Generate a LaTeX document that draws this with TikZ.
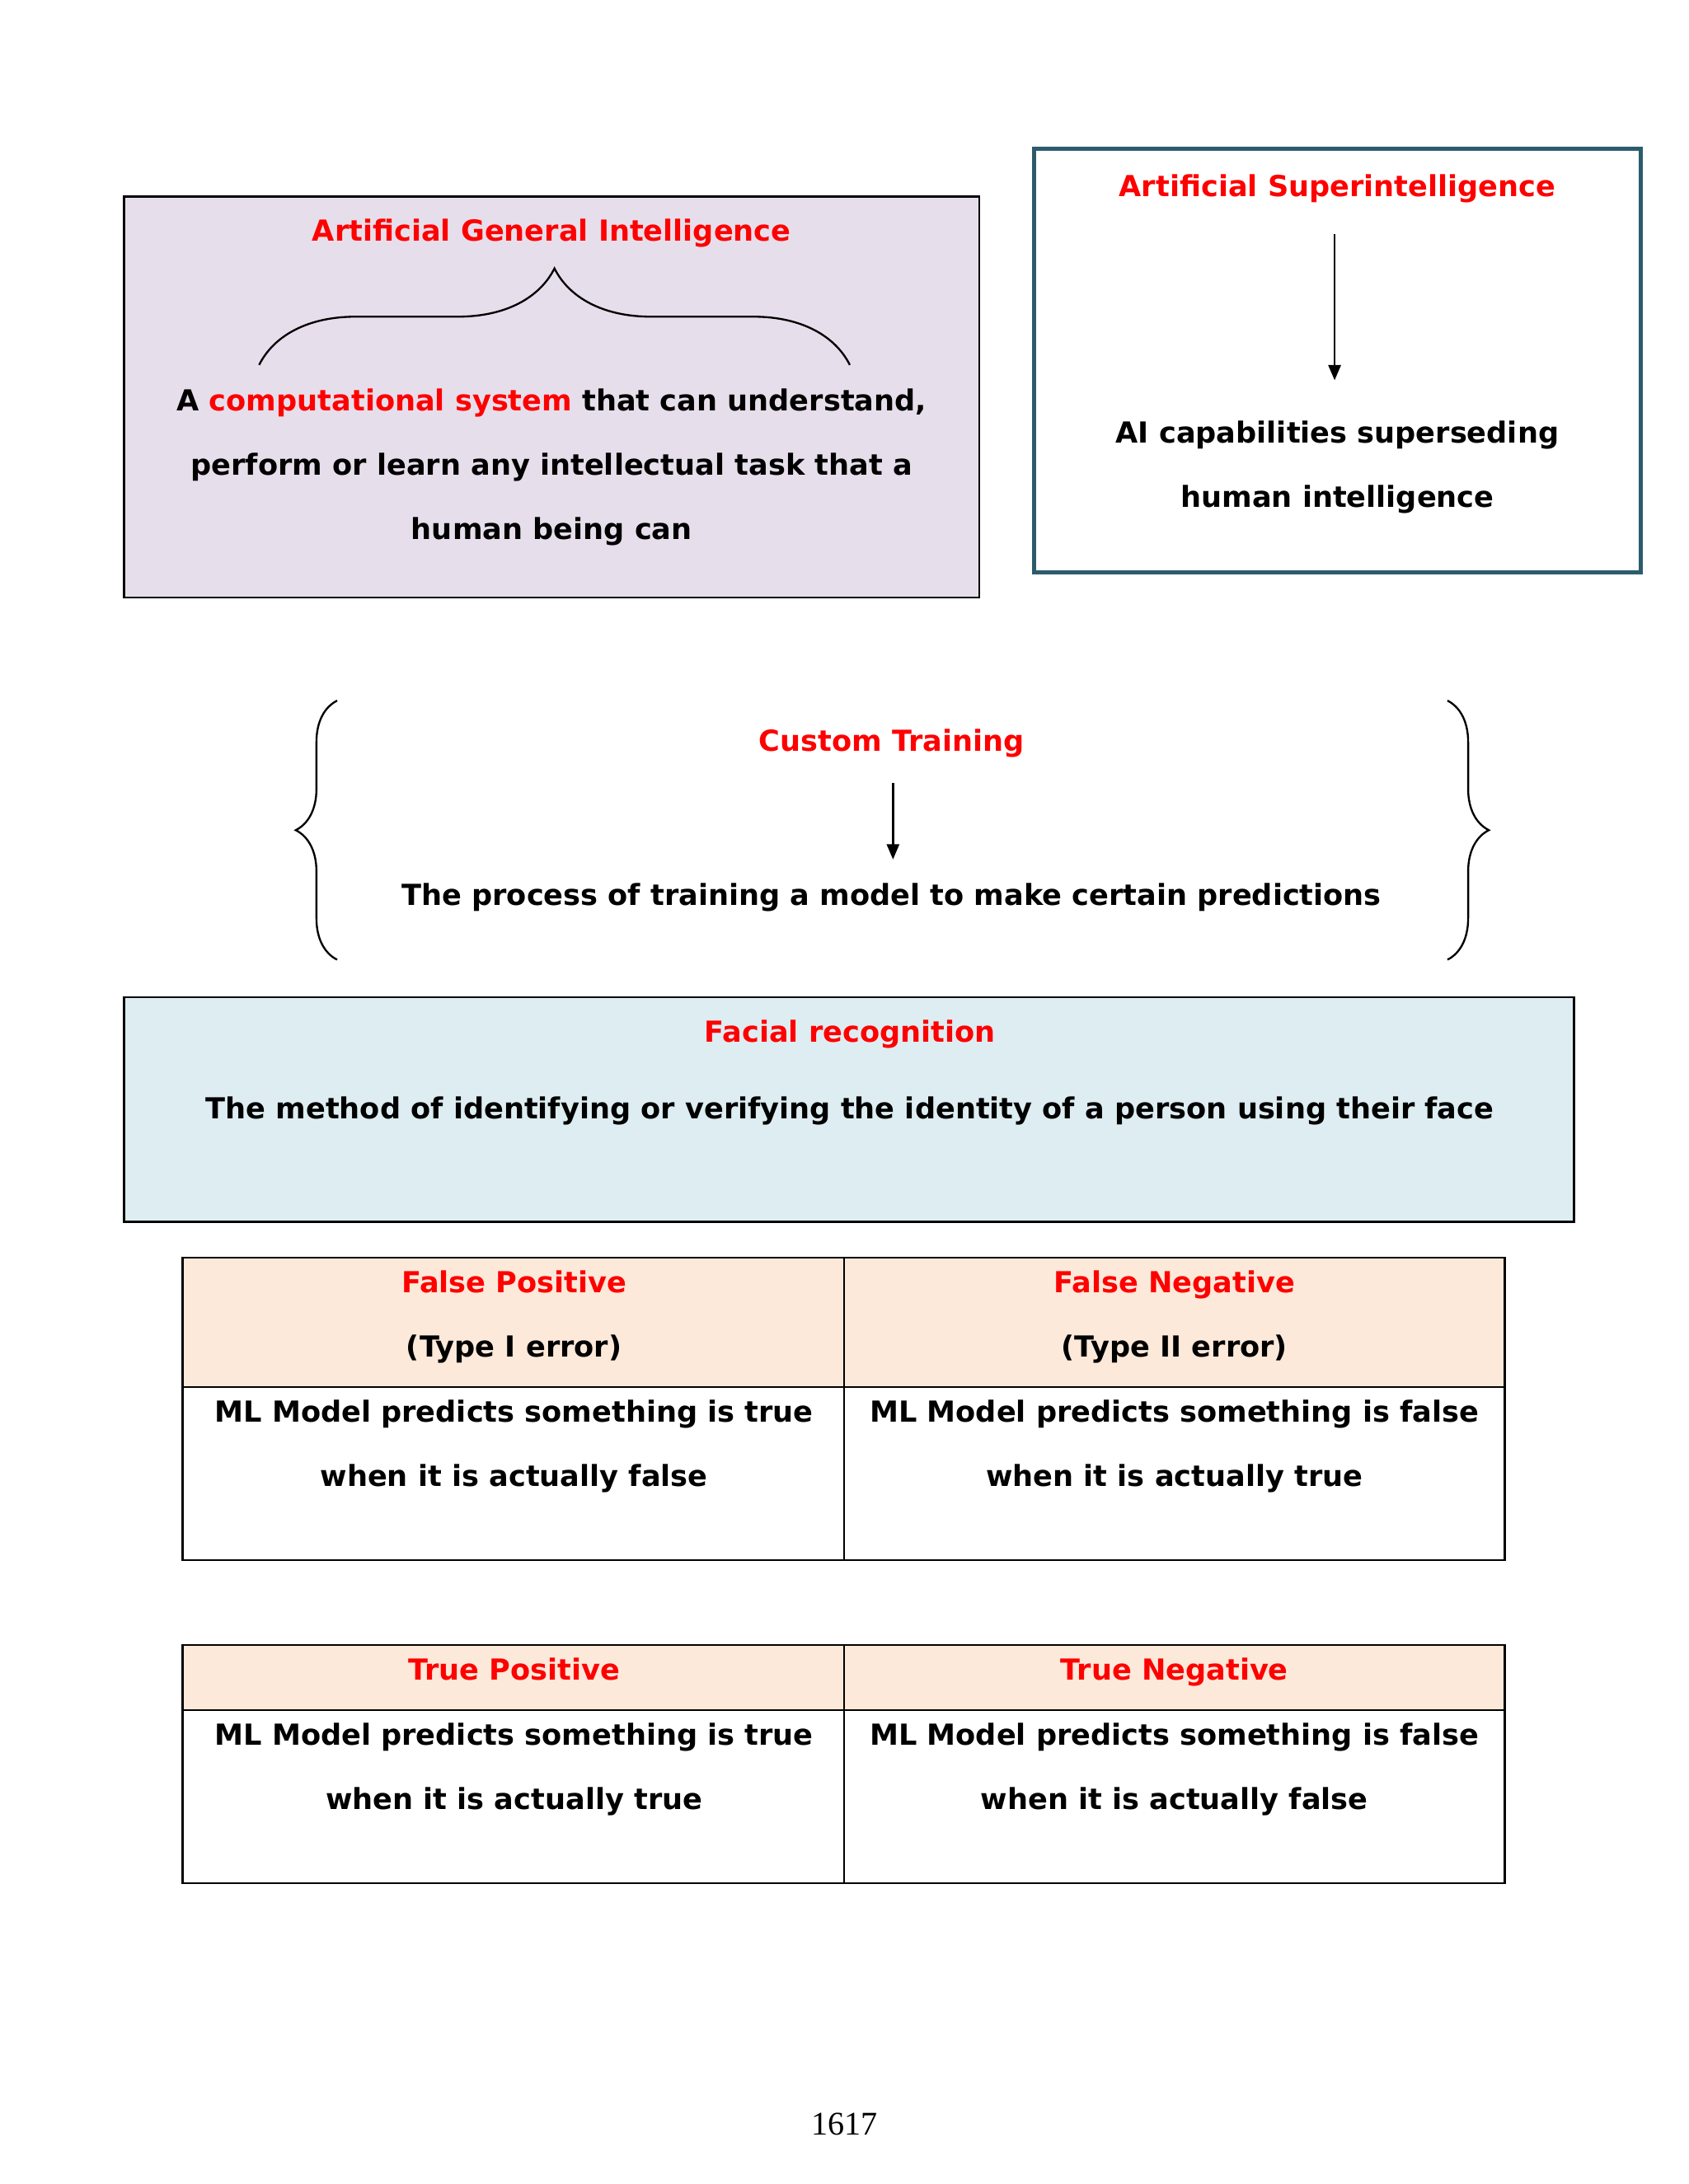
\documentclass[tikz,border=0pt]{standalone}
\usepackage{fontspec}
\setmainfont{DejaVu Sans}
\newfontfamily\pagefont{Liberation Serif}
\usetikzlibrary{arrows.meta,positioning,decorations.pathreplacing,calc}

\definecolor{agifill}{RGB}{231,222,235}
\definecolor{asiline}{RGB}{44,92,108}
\definecolor{facefill}{RGB}{221,237,242}
\definecolor{headfill}{RGB}{252,233,218}
\definecolor{titlered}{RGB}{255,0,0}

\begin{document}
\begin{tikzpicture}[
  x=0.505pt, y=-0.505pt,
  >={Triangle[length=5.5pt,width=4.5pt]},
  font=\fontsize{10.5}{13}\selectfont\bfseries,
  title/.style={text=titlered,text height=10pt,text depth=1.8pt,inner sep=0pt},
  line/.style={text height=10pt,text depth=1.8pt,inner sep=0pt},
  conbox/.style={draw,line width=0.8pt},
  curly/.style={decorate,decoration={brace,amplitude=#1},line width=0.7pt},
  arr/.style={->,line width=0.7pt}
]

% -------------------------
% Geometry (no digits in macro names)
% -------------------------
\def\xAgiL{89}   \def\xAgiR{703}  \def\xAgiMid{396}
\def\yAgiT{141}  \def\yAgiB{429}
\def\xAsiL{742}  \def\xAsiR{1178} \def\xAsiMid{960}
\def\yAsiT{107}  \def\yAsiB{411}
\def\xCtMid{640} \def\xBrL{242}   \def\xBrR{1039}
\def\yBrT{503}   \def\yBrB{689}
\def\xFaceL{89}  \def\xFaceR{1130} \def\xFaceMid{610}
\def\yFaceT{716} \def\yFaceB{877}
\def\xTabL{131}  \def\xTabC{606}  \def\xTabR{1080}
\def\xColA{369}  \def\xColB{843}

\useasboundingbox[fill=white] (0,0) rectangle (1212,1568);

% -------------------------
% Artificial General Intelligence
% -------------------------
\draw[conbox,fill=agifill] (\xAgiL,\yAgiT) rectangle (\xAgiR,\yAgiB);
\node[title] (agi-title) at (\xAgiMid,165) {Artificial General Intelligence};
\draw[curly=35pt] (186,262) -- (610,262);
\node[line] (agi-a) at (\xAgiMid,287) {A \textcolor{titlered}{computational system} that can understand,};
\node[line] (agi-b) at (\xAgiMid,333) {perform or learn any intellectual task that a};
\node[line] (agi-c) at (\xAgiMid,379) {human being can};

% -------------------------
% Artificial Superintelligence
% -------------------------
\draw[line width=1.5pt,draw=asiline,fill=white] (\xAsiL,\yAsiT) rectangle (\xAsiR,\yAsiB);
\node[title] (asi-title) at (\xAsiMid,133) {Artificial Superintelligence};
\node[line] (asi-a) at (\xAsiMid,310) {AI capabilities superseding};
\node[line] (asi-b) at (\xAsiMid,356) {human intelligence};
\draw[arr] ($(asi-title.center)+(-2,35)$) -- ($(asi-a.center)+(-2,-37)$);

% -------------------------
% Custom Training
% -------------------------
\draw[curly=15pt] (\xBrL,\yBrB) -- (\xBrL,\yBrT);
\draw[curly=15pt] (\xBrR,\yBrT) -- (\xBrR,\yBrB);
\node[title] (ct-title) at (\xCtMid,531) {Custom Training};
\node[line] (ct-text) at (\xCtMid,642) {The process of training a model to make certain predictions};
\draw[arr] ($(ct-title.center)+(1,31)$) -- ($(ct-text.center)+(1,-25)$);

% -------------------------
% Facial recognition
% -------------------------
\draw[conbox,fill=facefill] (\xFaceL,\yFaceT) rectangle (\xFaceR,\yFaceB);
\node[title] (face-title) at (\xFaceMid,740) {Facial recognition};
\node[line] (face-text) at (\xFaceMid,795) {The method of identifying or verifying the identity of a person using their face};

% -------------------------
% Error table
% -------------------------
\fill[headfill] (\xTabL,903) rectangle (\xTabR,996);
\draw[line width=0.6pt] (\xTabL,996) -- (\xTabR,996);
\draw[line width=0.6pt] (\xTabC,903) -- (\xTabC,1120);
\draw[conbox] (\xTabL,903) rectangle (\xTabR,1120);

\node[title] (fp-title) at (\xColA,920) {False Positive};
\node[line] (fp-type) at (\xColA,966) {(Type I error)};
\node[line] (fp-a) at (\xColA,1013) {ML Model predicts something is true};
\node[line] (fp-b) at (\xColA,1059) {when it is actually false};

\node[title] (fn-title) at (\xColB,920) {False Negative};
\node[line] (fn-type) at (\xColB,966) {(Type II error)};
\node[line] (fn-a) at (\xColB,1013) {ML Model predicts something is false};
\node[line] (fn-b) at (\xColB,1059) {when it is actually true};

% -------------------------
% Correct table
% -------------------------
\fill[headfill] (\xTabL,1181) rectangle (\xTabR,1228);
\draw[line width=0.6pt] (\xTabL,1228) -- (\xTabR,1228);
\draw[line width=0.6pt] (\xTabC,1181) -- (\xTabC,1352);
\draw[conbox] (\xTabL,1181) rectangle (\xTabR,1352);

\node[title] (tp-title) at (\xColA,1198) {True Positive};
\node[line] (tp-a) at (\xColA,1245) {ML Model predicts something is true};
\node[line] (tp-b) at (\xColA,1291) {when it is actually true};

\node[title] (tn-title) at (\xColB,1198) {True Negative};
\node[line] (tn-a) at (\xColB,1245) {ML Model predicts something is false};
\node[line] (tn-b) at (\xColB,1291) {when it is actually false};

% page number
\node[font=\pagefont\fontsize{12}{14}\selectfont] (page) at (606,1525) {1617};

\end{tikzpicture}
\end{document}
